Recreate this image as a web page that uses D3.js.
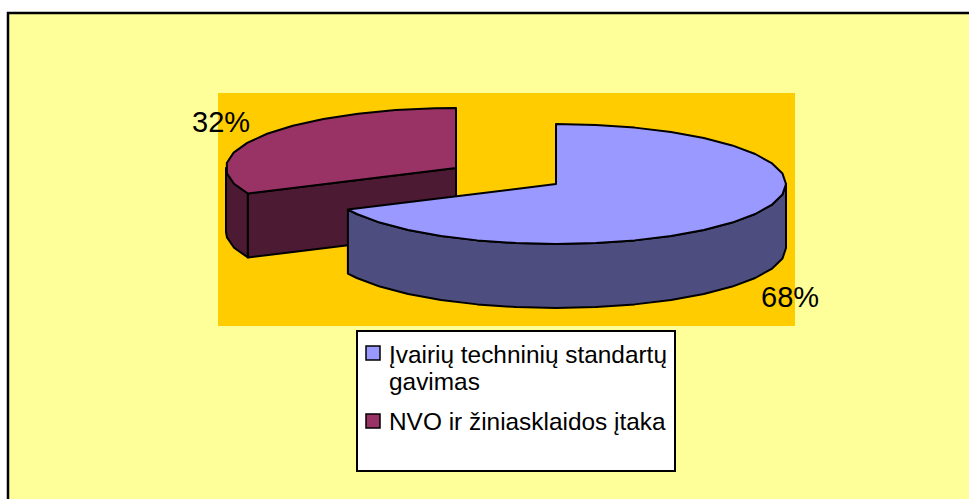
<!DOCTYPE html>
<html>
<head>
<meta charset="utf-8">
<script src="https://cdn.jsdelivr.net/npm/d3@7"></script>
<style>
    html, body { margin: 0; padding: 0; background: #fff; overflow: hidden; }
    text { font-family: "Liberation Sans", Arial, sans-serif; fill: #000; }
</style>
</head>
<body>
<svg id="chart" width="969" height="499"></svg>
<script>
var categories = ["Įvairių techninių standartų gavimas", "NVO ir žiniasklaidos įtaka"];
var values = [68, 32];
var colors = ["#9999FF", "#993366"];
var sideColors = ["#4D4D80", "#4D1A33"];
var legendLines = [["Įvairių techninių standartų", "gavimas"], ["NVO ir žiniasklaidos įtaka"]];

var svg = d3.select("#chart"),
    rx = 230,
    ry = 60,
    depth = 64,
    step = Math.PI / 18;

// exploded slices: each has its own centre
var centers = [[556, 184], [456, 168]];

var pie = d3.pie().sort(null)(values);
var line = d3.line();

function rim(c, a, dy) {
    return [c[0] + rx * Math.sin(a), c[1] - ry * Math.cos(a) + (dy || 0)];
}

function angles(a0, a1) {
    var list = d3.range(a0, a1, step);
    list.push(a1);
    return list;
}

// chart area
svg.append("rect")
    .attr("x", 8).attr("y", 13).attr("width", 970).attr("height", 500)
    .attr("fill", "#FFFF99").attr("stroke", "#000").attr("stroke-width", 2.5);

// plot area
svg.append("rect")
    .attr("x", 218).attr("y", 93).attr("width", 577).attr("height", 233)
    .attr("fill", "#FFCC00");

// second slice goes first, the first one overlaps it
var order = [1, 0];
var slices = svg.append("g").attr("stroke", "#000").attr("stroke-width", 2).attr("stroke-linejoin", "round");

order.forEach(function (i) {
    var d = pie[i], c = centers[i], g = slices.append("g");

    // outer wall, only the part facing the viewer
    var wallFrom = Math.max(d.startAngle, Math.PI / 2),
        wallTo = Math.min(d.endAngle, Math.PI * 1.5),
        wallAngles = angles(wallFrom, wallTo);
    var wall = wallAngles.map(function (a) { return rim(c, a); })
        .concat(wallAngles.slice().reverse().map(function (a) { return rim(c, a, depth); }));
    g.append("path")
        .attr("d", line(wall) + "Z")
        .attr("fill", sideColors[i]);

    // cut face, only for the slice whose start edge looks forward
    if (i === 1) {
        g.append("path")
            .attr("d", line([c, rim(c, d.startAngle), rim(c, d.startAngle, depth), [c[0], c[1] + depth]]) + "Z")
            .attr("fill", sideColors[i]);
    }

    // top face
    var top = [c].concat(angles(d.startAngle, d.endAngle).map(function (a) { return rim(c, a); }));
    g.append("path")
        .attr("d", line(top) + "Z")
        .attr("fill", colors[i]);
});

// percent labels
svg.append("text").attr("x", 192).attr("y", 132).attr("font-size", 29)
    .text(values[1] + "%");
svg.append("text").attr("x", 761).attr("y", 307).attr("font-size", 29)
    .text(values[0] + "%");

// legend
var legend = svg.append("g");
legend.append("rect")
    .attr("x", 357).attr("y", 331).attr("width", 318).attr("height", 140)
    .attr("fill", "#fff").attr("stroke", "#000").attr("stroke-width", 2);

var legendTop = [346, 414],
    legendBase = [[363, 390], [430]];

categories.forEach(function (name, i) {
    legend.append("rect")
        .attr("x", 366).attr("y", legendTop[i]).attr("width", 14).attr("height", 14)
        .attr("fill", colors[i]).attr("stroke", "#000").attr("stroke-width", 1.5);
    legendLines[i].forEach(function (t, j) {
        legend.append("text")
            .attr("x", 389).attr("y", legendBase[i][j]).attr("font-size", 24.4)
            .text(t);
    });
});
</script>
</body>
</html>
